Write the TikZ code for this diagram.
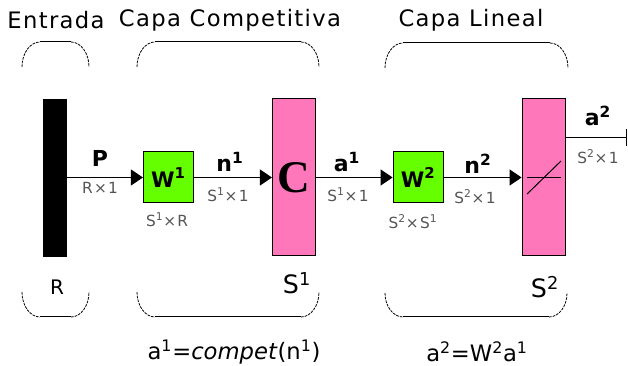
\documentclass[tikz,border=0pt]{standalone}
\usepackage{fontspec}
\setmainfont{DejaVu Sans}
\newfontfamily\serifbold{Liberation Serif}
\usetikzlibrary{arrows.meta,positioning}
\definecolor{nnpink}{RGB}{255,119,187}
\definecolor{nngreen}{RGB}{102,255,0}
\definecolor{nngray}{RGB}{85,85,85}
% brace drawn as two dashed quarter arcs and a solid line: left x, right x, end y, line y
\newcommand{\layerbrace}[4]{%
  \draw[bracearc] (#1,#3) .. controls (#1,{0.448*#3+0.552*#4}) and ({#1+8},#4) .. ({#1+18},#4);
  \draw[braceline] ({#1+18},#4) -- ({#2-18},#4);
  \draw[bracearc] ({#2-18},#4) .. controls ({#2-8},#4) and (#2,{0.448*#3+0.552*#4}) .. (#2,#3);}

\begin{document}
\begin{tikzpicture}[x=0.75pt,y=-0.75pt,node distance=57.5pt,
    wbox/.style={draw,fill=nngreen,line width=0.75pt,minimum width=37.5pt,minimum height=38.25pt,inner sep=0pt,font=\fontsize{16}{16}\selectfont\bfseries},
    layerbox/.style={draw,fill=nnpink,line width=0.75pt,minimum width=32.25pt,minimum height=117.75pt,inner sep=0pt},
    wire/.style={line width=0.75pt,-{Triangle[length=9pt,width=12pt]}},
    sig/.style={font=\fontsize{16.5}{16.5}\selectfont\bfseries,inner sep=0pt},
    dims/.style={font=\fontsize{11.5}{11.5}\selectfont\addfontfeature{LetterSpace=8},text=nngray,inner sep=0pt},
    title/.style={font=\fontsize{17}{17}\selectfont\addfontfeature{LetterSpace=6},inner sep=0pt},
    size/.style={font=\fontsize{19}{19}\selectfont,inner sep=0pt},
    eqn/.style={font=\fontsize{17}{17}\selectfont,inner sep=0pt},
    bracearc/.style={line width=0.6pt,dash pattern=on 2pt off 0.8pt},
    braceline/.style={line width=0.75pt}]
  \useasboundingbox (0,0) rectangle (628,366);
  % titles
  \node[title] (tin) at (56,20) {Entrada};
  \node[title] (tcomp) at (230,20) {Capa Competitiva};
  \node[title] (tlin) at (471,20) {Capa Lineal};
  \layerbrace{22}{89}{67}{42}
  \layerbrace{137}{319}{67}{42}
  \layerbrace{385}{568}{68}{43}
  % network
  \node[draw,fill=black,minimum width=17.25pt,minimum height=117.75pt,inner sep=0pt] (inp) at (54.5,177.5) {};
  \node[wbox,right=of inp] (w1) {W\textsuperscript{1}};
  \node[layerbox,right=58.5pt of w1] (comp) {\fontsize{34}{34}\selectfont\serifbold\bfseries C};
  \node[wbox,right=of comp] (w2) {W\textsuperscript{2}};
  \node[layerbox,right=58.5pt of w2] (lin) {};
  \draw[line width=0.75pt] ([xshift=-12.4pt]lin.center) -- ([xshift=13.1pt]lin.center);
  \draw[line width=0.75pt] ([xshift=-12.4pt,yshift=-12.4pt]lin.center) -- ([xshift=13.1pt,yshift=12.4pt]lin.center);
  \coordinate (out) at (627,138);
  \draw[wire] (inp) -- (w1);
  \draw[wire] (w1) -- (comp);
  \draw[wire] (comp) -- (w2);
  \draw[wire] (w2) -- (lin);
  \draw[line width=0.75pt,-{Bar[width=12.75pt,line width=1pt]}] (lin.east |- out) -- (out);
  % signal labels
  \node[sig] (lp) at (100,158) {P};
  \node[dims] (dp) at (100,188) {R×1};
  \node[dims] (dw1) at (167,220) {S\textsuperscript{1}×R};
  \node[sig] (ln1) at (230,162) {n\textsuperscript{1}};
  \node[dims] (dn1) at (228,195) {S\textsuperscript{1}×1};
  \node[sig] (la1) at (347,162) {a\textsuperscript{1}};
  \node[dims] (da1) at (348,195) {S\textsuperscript{1}×1};
  \node[dims] (dw2) at (413,222) {S\textsuperscript{2}×S\textsuperscript{1}};
  \node[sig] (ln2) at (478,164) {n\textsuperscript{2}};
  \node[dims] (dn2) at (475,197) {S\textsuperscript{2}×1};
  \node[sig] (la2) at (598,116) {a\textsuperscript{2}};
  \node[dims] (da2) at (598,157) {S\textsuperscript{2}×1};
  % sizes and transfer functions
  \layerbrace{22}{89}{292}{317}
  \layerbrace{137}{319}{292}{317}
  \layerbrace{385}{567}{293}{317}
  \node[size,font=\fontsize{15}{15}\selectfont] (sr) at (57,287) {R};
  \node[size] (ss1) at (297,283) {S\textsuperscript{1}};
  \node[size] (ss2) at (545,287) {S\textsuperscript{2}};
  \node[eqn] (eq1) at (234,352) {a\textsuperscript{1}=\textit{compet}(n\textsuperscript{1})};
  \node[eqn] (eq2) at (477,352) {a\textsuperscript{2}=W\textsuperscript{2}a\textsuperscript{1}};
\end{tikzpicture}
\end{document}
